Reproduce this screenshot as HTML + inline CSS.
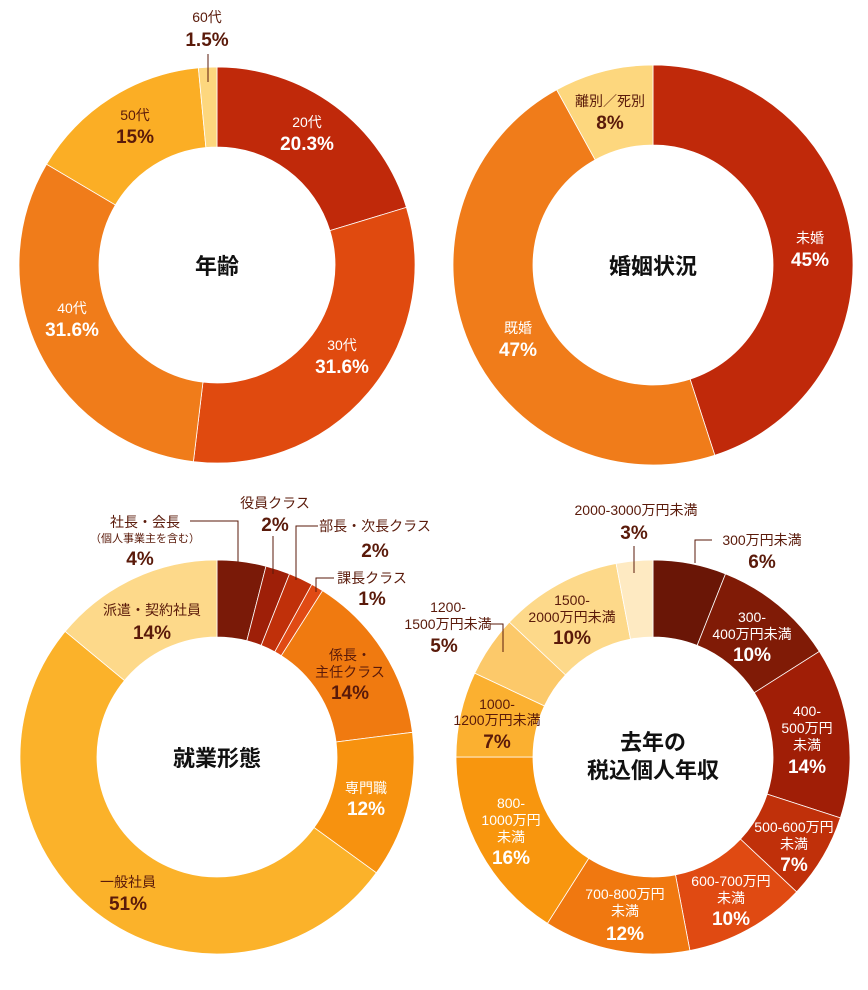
<!DOCTYPE html>
<html><head><meta charset="utf-8">
<style>
html,body{margin:0;padding:0;background:#fff;}
body{width:868px;height:985px;overflow:hidden;font-family:"Liberation Sans","Noto Sans CJK JP",sans-serif;}
svg text{font-family:"Liberation Sans","Noto Sans CJK JP",sans-serif;}
.n{font-size:14px;}
.p{font-size:19px;font-weight:bold;}
.c{font-size:22px;font-weight:bold;fill:#111;}
.w{fill:#fff;}
.d{fill:#5a1a0a;}
</style></head><body>
<svg id="chart" width="868" height="985" viewBox="0 0 868 985" xmlns="http://www.w3.org/2000/svg">
<g id="segs"></g>
<g text-anchor="middle">
<!-- chart 1 -->
<text class="c" x="217" y="274">年齢</text>
<text class="n d" x="207" y="22">60代</text><text class="p d" x="207" y="46">1.5%</text>
<line x1="208" y1="54" x2="208" y2="82" stroke="#5a1a0a" stroke-width="1"/>
<text class="n w" x="307" y="127">20代</text><text class="p w" x="307" y="150">20.3%</text>
<text class="n w" x="342" y="350">30代</text><text class="p w" x="342" y="373">31.6%</text>
<text class="n w" x="72" y="313">40代</text><text class="p w" x="72" y="336">31.6%</text>
<text class="n d" x="135" y="120">50代</text><text class="p d" x="135" y="143">15%</text>
<!-- chart 2 -->
<text class="c" x="653" y="274">婚姻状況</text>
<text class="n w" x="810" y="243">未婚</text><text class="p w" x="810" y="266">45%</text>
<text class="n w" x="518" y="333">既婚</text><text class="p w" x="518" y="356">47%</text>
<text class="n d" x="610" y="106">離別／死別</text><text class="p d" x="610" y="129">8%</text>
<!-- chart 3 -->
<text class="c" x="217" y="766">就業形態</text>
<text class="n d" x="145" y="527">社長・会長</text><text style="font-size:11px" class="d" x="145" y="542">（個人事業主を含む）</text><text class="p d" x="140" y="565">4%</text>
<polyline points="190,521 238,521 238,562" fill="none" stroke="#5a1a0a"/>
<text class="n d" x="275" y="508">役員クラス</text><text class="p d" x="275" y="531">2%</text>
<line x1="273" y1="536" x2="273" y2="574" stroke="#5a1a0a"/>
<text class="n d" x="375" y="531">部長・次長クラス</text><text class="p d" x="375" y="557">2%</text>
<polyline points="318,526 296,526 296,580" fill="none" stroke="#5a1a0a"/>
<text class="n d" x="372" y="583">課長クラス</text><text class="p d" x="372" y="605">1%</text>
<polyline points="334,578 316,578 316,592" fill="none" stroke="#5a1a0a"/>
<text class="n d" x="350" y="660">係長・</text><text class="n d" x="350" y="677">主任クラス</text><text class="p d" x="350" y="699">14%</text>
<text class="n w" x="366" y="793">専門職</text><text class="p w" x="366" y="815">12%</text>
<text class="n d" x="128" y="887">一般社員</text><text class="p d" x="128" y="910">51%</text>
<text class="n d" x="152" y="615">派遣・契約社員</text><text class="p d" x="152" y="639">14%</text>
<!-- chart 4 -->
<text class="c" x="653" y="750">去年の</text>
<text class="c" x="653" y="778">税込個人年収</text>
<text class="n d" x="636" y="515">2000-3000万円未満</text><text class="p d" x="634" y="539">3%</text>
<line x1="634" y1="546" x2="634" y2="573" stroke="#5a1a0a"/>
<text class="n d" x="762" y="545">300万円未満</text><text class="p d" x="762" y="568">6%</text>
<polyline points="712,540 695,540 695,563" fill="none" stroke="#5a1a0a"/>
<text class="n w" x="752" y="622">300-</text><text class="n w" x="752" y="639">400万円未満</text><text class="p w" x="752" y="661">10%</text>
<text class="n w" x="807" y="716">400-</text><text class="n w" x="807" y="733">500万円</text><text class="n w" x="807" y="750">未満</text><text class="p w" x="807" y="773">14%</text>
<text class="n w" x="794" y="832">500-600万円</text><text class="n w" x="794" y="849">未満</text><text class="p w" x="794" y="871">7%</text>
<text class="n w" x="731" y="886">600-700万円</text><text class="n w" x="731" y="903">未満</text><text class="p w" x="731" y="925">10%</text>
<text class="n w" x="625" y="899">700-800万円</text><text class="n w" x="625" y="916">未満</text><text class="p w" x="625" y="940">12%</text>
<text class="n w" x="511" y="808">800-</text><text class="n w" x="511" y="825">1000万円</text><text class="n w" x="511" y="842">未満</text><text class="p w" x="511" y="864">16%</text>
<text class="n d" x="497" y="709">1000-</text><text class="n d" x="497" y="725">1200万円未満</text><text class="p d" x="497" y="748">7%</text>
<text class="n d" x="448" y="612">1200-</text><text class="n d" x="448" y="629">1500万円未満</text><text class="p d" x="444" y="652">5%</text>
<polyline points="490,624 503,624 503,652" fill="none" stroke="#5a1a0a"/>
<text class="n d" x="572" y="605">1500-</text><text class="n d" x="572" y="622">2000万円未満</text><text class="p d" x="572" y="644">10%</text>
</g>
</svg>
<script>
const ageCats=["20代","30代","40代","50代","60代"];
const ageVals=[20.3,31.6,31.6,15,1.5];
const ageColors=["#c0290a","#e04a0f","#f07c1a","#fbae25","#fdd77e"];
const marCats=["未婚","既婚","離別／死別"];
const marVals=[45,47,8];
const marColors=["#c0290a","#f07c1a","#fdd77e"];
const empCats=["社長・会長","役員クラス","部長・次長クラス","課長クラス","係長・主任クラス","専門職","一般社員","派遣・契約社員"];
const empVals=[4,2,2,1,14,12,51,14];
const empColors=["#7a1a08","#9e1f08","#c0300a","#e04a14","#f07a10","#f7920f","#fbb22a","#fdd98a"];
const incCats=["300万円未満","300-400","400-500","500-600","600-700","700-800","800-1000","1000-1200","1200-1500","1500-2000","2000-3000"];
const incVals=[6,10,14,7,10,12,16,7,5,10,3];
const incColors=["#6a1606","#801b06","#a01e06","#c0300a","#e04a12","#f07810","#f8960e","#fbb030","#fcc96a","#fdd98a","#feeac2"];

const g=document.getElementById('segs');
function pt(cx,cy,r,a){return [cx+r*Math.sin(a),cy-r*Math.cos(a)];}
function donut(name,cats,vals,colors,cx,cy,ro,ri){
  const tot=vals.reduce((a,b)=>a+b,0);
  let a0=0;
  vals.forEach((v,i)=>{
    const a1=a0+v/tot*2*Math.PI;
    const large=(a1-a0)>Math.PI?1:0;
    const p1=pt(cx,cy,ro,a0),p2=pt(cx,cy,ro,a1),p3=pt(cx,cy,ri,a1),p4=pt(cx,cy,ri,a0);
    const d=`M${p1[0]},${p1[1]}A${ro},${ro} 0 ${large} 1 ${p2[0]},${p2[1]}L${p3[0]},${p3[1]}A${ri},${ri} 0 ${large} 0 ${p4[0]},${p4[1]}Z`;
    const el=document.createElementNS('http://www.w3.org/2000/svg','path');
    el.setAttribute('d',d);
    el.setAttribute('fill',colors[i]);
    el.setAttribute('stroke','#fff');
    el.setAttribute('stroke-width','0.8');
    
    
    g.appendChild(el);
    a0=a1;
  });
}
donut('age',ageCats,ageVals,ageColors,217,265,198,118);
donut('marital',marCats,marVals,marColors,653,265,200,120);
donut('employment',empCats,empVals,empColors,217,757,197,120);
donut('income',incCats,incVals,incColors,653,757,197,120);
</script>
</body></html>
